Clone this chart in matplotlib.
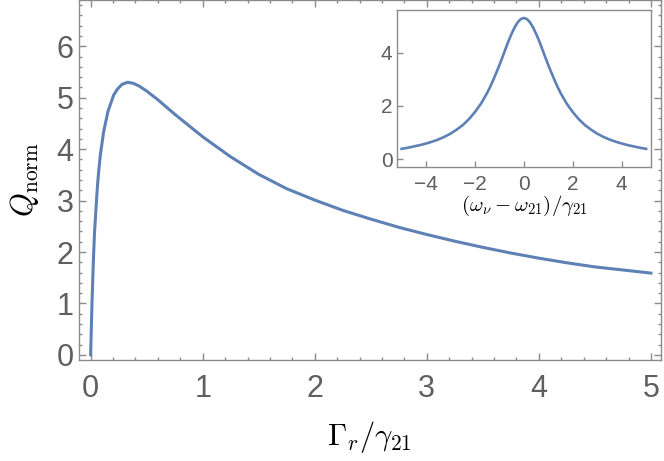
import numpy as np
import matplotlib
matplotlib.use("Agg")
import matplotlib.pyplot as plt
from matplotlib.ticker import MultipleLocator

# Main curve: Q_norm vs Gamma_r / gamma_21
gamma_r = [0, 0.006, 0.012, 0.02, 0.027, 0.035, 0.047, 0.055, 0.0625, 0.071,
           0.086, 0.116, 0.154, 0.205, 0.24, 0.28, 0.33, 0.38, 0.43, 0.5,
           0.6, 0.75, 1.0, 1.25, 1.5, 1.75, 2.0, 2.25, 2.5, 2.75,
           3.0, 3.25, 3.5, 3.75, 4.0, 4.25, 4.5, 4.75, 5.0]
q_norm = [0, 0.52, 1.0, 1.55, 1.98, 2.40, 2.82, 3.10, 3.33, 3.55,
          3.88, 4.34, 4.73, 5.05, 5.17, 5.26, 5.30, 5.28, 5.23, 5.13,
          4.96, 4.68, 4.24, 3.85, 3.51, 3.23, 3.01, 2.81, 2.64, 2.48,
          2.34, 2.21, 2.09, 1.98, 1.88, 1.79, 1.71, 1.65, 1.59]

# Inset: Q_norm vs detuning (omega_nu - omega_21) / gamma_21
detuning = [-5.0, -4.75, -4.5, -4.25, -4.0, -3.75, -3.5, -3.25, -3.0, -2.75,
            -2.5, -2.25, -2.0, -1.75, -1.625, -1.5, -1.375, -1.25, -1.125,
            -1.0, -0.875, -0.75, -0.625, -0.5, -0.375, -0.25, -0.125, 0.0,
            0.125, 0.25, 0.375, 0.5, 0.625, 0.75, 0.875, 1.0, 1.125, 1.25,
            1.375, 1.5, 1.625, 1.75, 2.0, 2.25, 2.5, 2.75, 3.0, 3.25, 3.5,
            3.75, 4.0, 4.25, 4.5, 4.75, 5.0]
q_detuning = [0.39, 0.43, 0.48, 0.53, 0.59, 0.66, 0.74, 0.84, 0.96, 1.11,
              1.28, 1.50, 1.77, 2.09, 2.29, 2.49, 2.72, 2.98, 3.25,
              3.53, 3.83, 4.14, 4.44, 4.71, 4.95, 5.14, 5.26, 5.30,
              5.26, 5.14, 4.95, 4.71, 4.44, 4.14, 3.83, 3.53, 3.25, 2.98,
              2.72, 2.49, 2.29, 2.09, 1.77, 1.50, 1.28, 1.11, 0.96, 0.84, 0.74,
              0.66, 0.59, 0.53, 0.48, 0.43, 0.39]

blue = "#5e81b5"
frame = "#8c8c8c"
label_grey = "#5f5f5f"

plt.rcParams["font.family"] = ["Liberation Sans", "DejaVu Sans"]
plt.rcParams["mathtext.fontset"] = "cm"

fig = plt.figure(figsize=(6.64, 4.61), dpi=100)
ax = fig.add_axes([79 / 664, 101 / 461, 582 / 664, 360 / 461])

ax.plot(gamma_r, q_norm, color=blue, lw=2.2, solid_joinstyle="round")
ax.set_xlim(-0.104, 5.09)
ax.set_ylim(-0.1, 6.9)
ax.xaxis.set_major_locator(MultipleLocator(1))
ax.xaxis.set_minor_locator(MultipleLocator(0.2))
ax.yaxis.set_major_locator(MultipleLocator(1))
ax.yaxis.set_minor_locator(MultipleLocator(0.2))
ax.tick_params(which="both", direction="in", top=True, right=True,
               color=frame, width=1.0)
ax.tick_params(which="major", length=5, labelsize=22, labelcolor=label_grey)
ax.tick_params(axis="x", which="major", pad=10)
ax.tick_params(axis="y", which="major", pad=4)
ax.tick_params(which="minor", length=2.5)
for sp in ax.spines.values():
    sp.set_color(frame)
    sp.set_linewidth(1.0)

ax.set_xlabel(r"$\Gamma_r/\gamma_{21}$", fontsize=22, va="center")
ax.xaxis.set_label_coords(0.499, -0.214)
ax.set_ylabel(r"$Q_{\mathrm{norm}}$", fontsize=22, va="center")
ax.yaxis.set_label_coords(-0.093, 0.5)

# Inset
ins = fig.add_axes([396.7 / 664, (461 - 166.7) / 461, 254.3 / 664, 156.7 / 461])
ins.plot(detuning, q_detuning, color=blue, lw=1.9, solid_joinstyle="round")
ins.set_xlim(-5.2, 5.2)
ins.set_ylim(-0.28, 5.6)
ins.xaxis.set_major_locator(MultipleLocator(2))
ins.yaxis.set_major_locator(MultipleLocator(2))
ins.tick_params(direction="in", length=4, color=frame, width=1.0,
                labelsize=15, labelcolor=label_grey)
ins.tick_params(axis="x", pad=6)
ins.tick_params(axis="y", pad=3)
for sp in ins.spines.values():
    sp.set_color(frame)
    sp.set_linewidth(1.0)
ins.set_xlabel(r"$(\omega_\nu-\omega_{21})/\gamma_{21}$", fontsize=15, va="center")
ins.xaxis.set_label_coords(0.5, -0.25)

fig.savefig("out.png", dpi=100)
